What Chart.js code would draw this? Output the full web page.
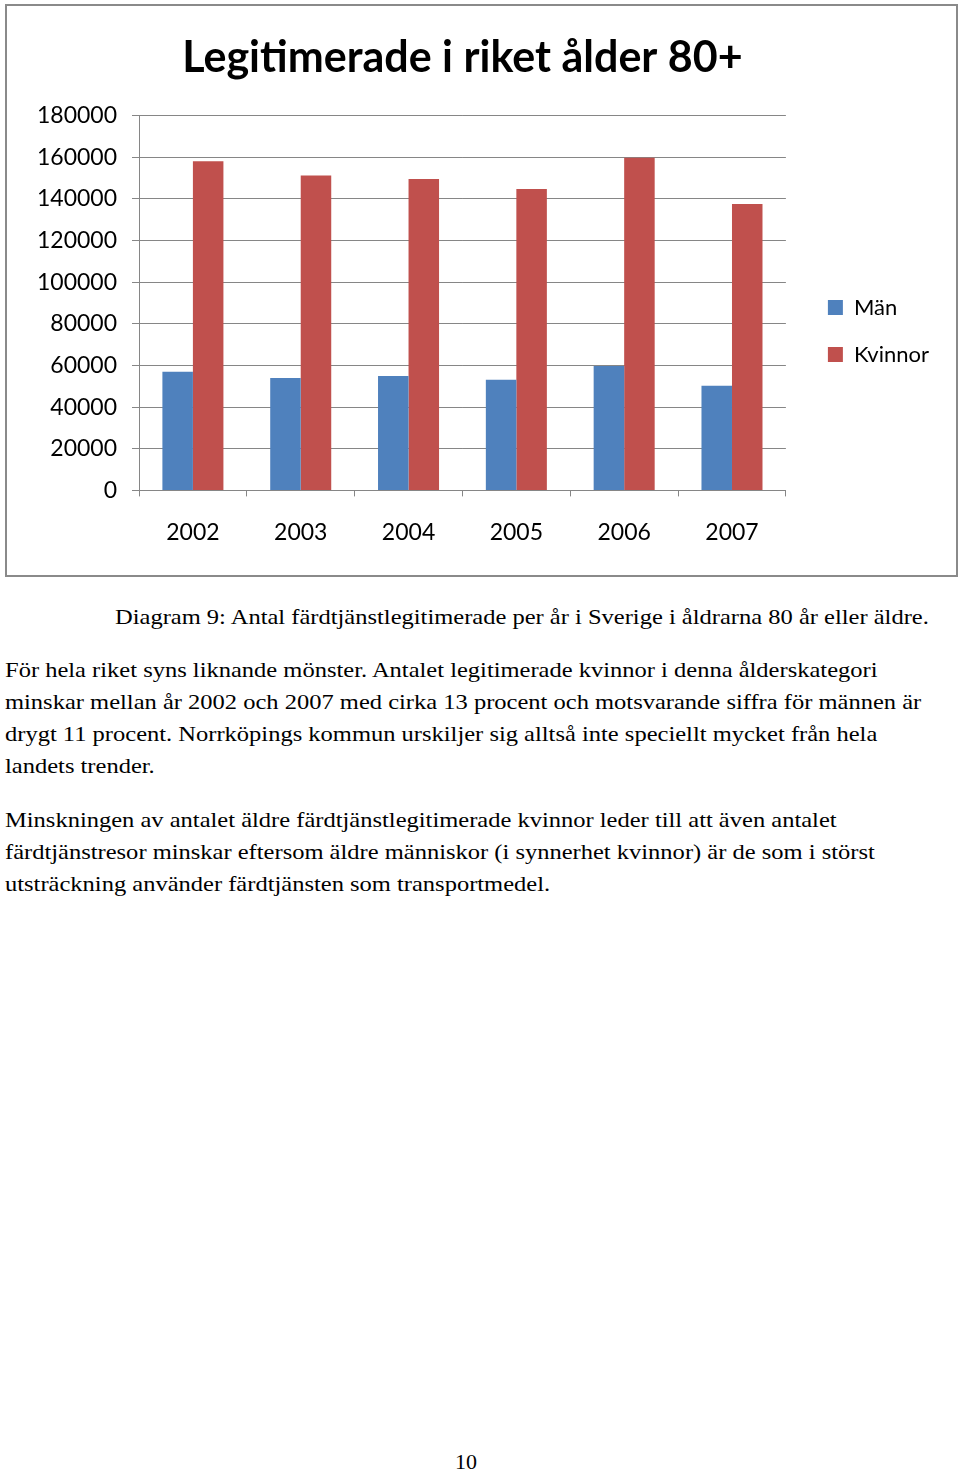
<!DOCTYPE html>
<html>
<head>
<meta charset="utf-8">
<script src="https://cdn.jsdelivr.net/npm/chart.js@4/dist/chart.umd.min.js"></script>
<style>
  body { margin: 0; width: 960px; height: 1473px; background: #fff; position: relative;
         font-family: "Liberation Serif", "Times New Roman", serif; color: #000; }
  #frame { position: absolute; left: 5px; top: 4px; width: 953px; height: 573px;
           border: 2px solid #8a8a8a; box-sizing: border-box; }
  #chartBox { position: relative; width: 949px; height: 569px; }
  .txt { position: absolute; font-size: 21px; line-height: 32px; white-space: nowrap;
         transform: scaleX(1.167); transform-origin: 0 0; }
  .pageno { position: absolute; font-size: 22px; line-height: 32px; }
</style>
</head>
<body>
<div id="frame"><div id="chartBox"><canvas id="chart"></canvas></div></div>

<div class="txt" style="left:115px; top:601px;">Diagram 9: Antal färdtjänstlegitimerade per år i Sverige i åldrarna 80 år eller äldre.</div>
<div class="txt" style="left:5px; top:654px;">För hela riket syns liknande mönster. Antalet legitimerade kvinnor i denna ålderskategori<br>minskar mellan år 2002 och 2007 med cirka 13 procent och motsvarande siffra för männen är<br>drygt 11 procent. Norrköpings kommun urskiljer sig alltså inte speciellt mycket från hela<br>landets trender.</div>
<div class="txt" style="left:5px; top:804px;">Minskningen av antalet äldre färdtjänstlegitimerade kvinnor leder till att även antalet<br>färdtjänstresor minskar eftersom äldre människor (i synnerhet kvinnor) är de som i störst<br>utsträckning använder färdtjänsten som transportmedel.</div>
<div class="pageno" style="left:455px; top:1446px;">10</div>

<script>
// data
const years = ['2002', '2003', '2004', '2005', '2006', '2007'];
const man = [57000, 54000, 55000, 53200, 59800, 50200];
const kvinnor = [158100, 151200, 149600, 144700, 159700, 137500];
const yMax = 180000;
const yStep = 20000;

const gridGray = '#868686';
const chartFont = 'Lato';

// legend sits a bit right of / lower than Chart.js puts it
const legendNudge = {
    id: 'legendNudge',
    afterLayout(chart) {
        const lg = chart.legend;
        lg.left += 17; lg.right += 17;
        lg.top += 44; lg.bottom += 44;
    }
};

const ctx = document.getElementById('chart').getContext('2d');
new Chart(ctx, {
    type: 'bar',
    data: {
        labels: years,
        datasets: [{
            label: 'Män',
            data: man,
            backgroundColor: '#4F81BD',
            borderWidth: 0
        }, {
            label: 'Kvinnor',
            data: kvinnor,
            backgroundColor: '#C0504D',
            borderWidth: 0
        }]
    },
    options: {
        responsive: true,
        maintainAspectRatio: false,
        animation: false,
        datasets: {
            bar: { categoryPercentage: 0.566, barPercentage: 1.0 }
        },
        layout: {
            padding: { left: 0, right: 34, top: 0, bottom: 7 }
        },
        plugins: {
            title: {
                display: true,
                fullSize: false,
                text: 'Legitimerade i riket ålder 80+',
                color: '#000',
                font: { family: chartFont, size: 43, weight: 'bold', lineHeight: 1.2 },
                padding: { top: 26, bottom: 32 }
            },
            legend: {
                position: 'right',
                labels: {
                    color: '#000',
                    boxWidth: 15,
                    boxHeight: 15,
                    padding: 25,
                    font: { family: chartFont, size: 22 }
                }
            },
            tooltip: { enabled: false }
        },
        scales: {
            x: {
                grid: {
                    drawOnChartArea: false,
                    drawTicks: true,
                    tickLength: 6,
                    color: gridGray
                },
                border: { color: gridGray },
                ticks: {
                    color: '#000',
                    padding: 22,
                    font: { family: chartFont, size: 23 }
                }
            },
            y: {
                min: 0,
                max: yMax,
                afterFit(scale) { scale.width = 132; },
                grid: {
                    color: gridGray,
                    drawTicks: true,
                    tickLength: 7
                },
                border: { color: gridGray },
                ticks: {
                    stepSize: yStep,
                    color: '#000',
                    padding: 15,
                    font: { family: chartFont, size: 23 },
                    callback: v => String(v)
                }
            }
        }
    },
    plugins: [legendNudge]
});
</script>
</body>
</html>
